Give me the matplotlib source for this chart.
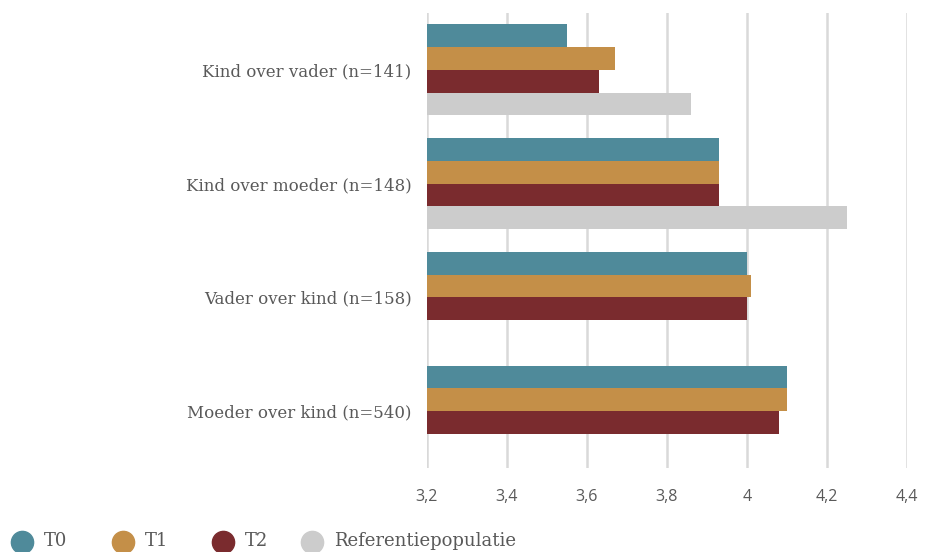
import numpy as np
import matplotlib.pyplot as plt
from matplotlib.lines import Line2D

categories = ["Kind over vader (n=141)", "Kind over moeder (n=148)",
              "Vader over kind (n=158)", "Moeder over kind (n=540)"]
series = ["T0", "T1", "T2", "Referentiepopulatie"]
t0 = [3.55, 3.93, 4.00, 4.10]
t1 = [3.67, 3.93, 4.01, 4.10]
t2 = [3.63, 3.93, 4.00, 4.08]
ref = [3.86, 4.25, np.nan, np.nan]
xticks = [3.2, 3.4, 3.6, 3.8, 4.0, 4.2, 4.4]
xtick_labels = ["3,2", "3,4", "3,6", "3,8", "4", "4,2", "4,4"]

colors = ["#4f8a9a", "#c48f48", "#7a2b2e", "#cccccc"]
text_gray = "#595959"
serif = ["DejaVu Serif"]

fig = plt.figure(figsize=(9.26, 5.52), dpi=100)
ax = fig.add_axes([427 / 926, 1 - 468 / 552, 480 / 926, 455 / 552])

y = np.arange(len(categories))
bh = 0.2
offsets = [-0.3, -0.1, 0.1, 0.3]
for vals, off, c in zip([t0, t1, t2, ref], offsets, colors):
    v = np.array(vals, dtype=float)
    ax.barh(y + off, v - 3.2, left=3.2, height=bh, color=c, zorder=3)

ax.set_xlim(3.2, 4.4)
ax.set_ylim(3.5, -0.5)
ax.set_xticks(xticks)
ax.set_xticklabels(xtick_labels, family="Open Sans", fontsize=11.5, color=text_gray)
ax.set_yticks(y)
ax.set_yticklabels(categories, family=serif, fontsize=12, color=text_gray)
ax.tick_params(axis="both", length=0)
ax.tick_params(axis="x", pad=15)
ax.tick_params(axis="y", pad=11)
ax.grid(axis="x", color="#d9d9d9", linewidth=1.8, zorder=0)
for s in ax.spines.values():
    s.set_visible(False)

# legend drawn by hand at the bottom
leg_x = [22, 123, 223, 312]
for xp, name, c in zip(leg_x, series, colors):
    fig.add_artist(Line2D([xp / 926], [10 / 552], marker="o", markersize=16,
                          color=c, linestyle="none", transform=fig.transFigure))
    fig.text((xp + 22) / 926, 11 / 552, name, family=serif, fontsize=13,
             color=text_gray, va="center", ha="left")

fig.savefig("out.png", dpi=100)
